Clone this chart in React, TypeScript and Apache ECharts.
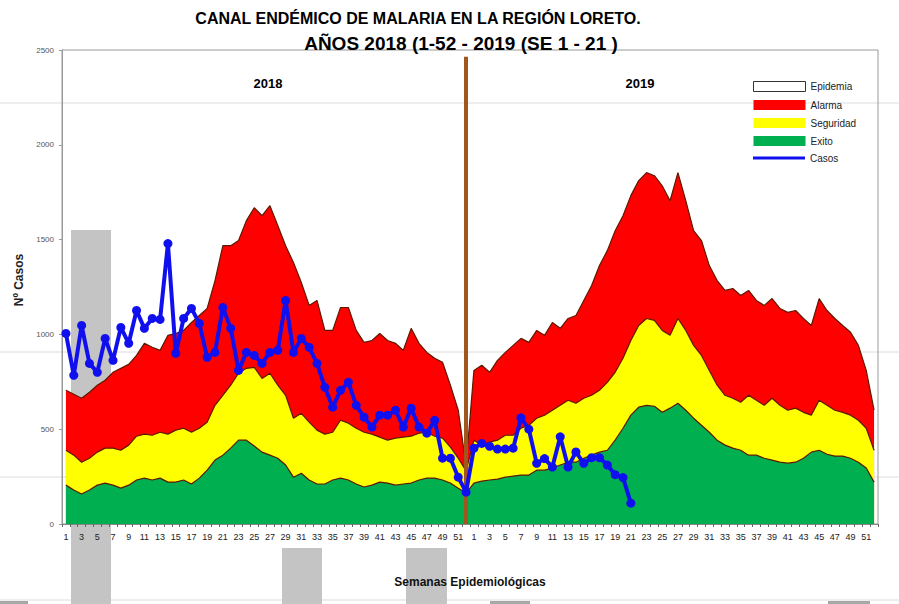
import React, { useEffect, useRef } from "react";
import * as echarts from "echarts";

const WEEKS: string[] = Array.from({ length: 52 }, (_, i) => String(i + 1));
const YEARS = ["2018", "2019"];
const CATEGORIES: string[] = [
  ...WEEKS.map((w) => YEARS[0] + "-" + w),
  ...WEEKS.map((w) => YEARS[1] + "-" + w),
];

const ALARMA_2018 = [705, 684, 663, 695, 732, 758, 800, 821, 842, 889, 953, 932, 916, 995, 1005, 1021, 1063, 1100, 1137, 1284, 1468, 1468, 1495, 1600, 1668, 1626, 1679, 1574, 1468, 1379, 1274, 1153, 1179, 1021, 1021, 1142, 1142, 1021, 958, 968, 1005, 968, 953, 916, 1032, 953, 905, 874, 853, 732, 600, 310];
const ALARMA_2019 = [810, 837, 800, 863, 905, 942, 979, 958, 1021, 995, 1063, 1032, 1084, 1100, 1179, 1258, 1363, 1442, 1547, 1626, 1732, 1811, 1853, 1837, 1784, 1705, 1853, 1705, 1547, 1495, 1363, 1284, 1232, 1242, 1205, 1232, 1179, 1153, 1189, 1137, 1116, 1126, 1084, 1047, 1189, 1126, 1084, 1047, 1011, 942, 810, 600];
const SEGURIDAD_2018 = [389, 363, 326, 347, 379, 400, 400, 389, 416, 463, 474, 468, 484, 474, 495, 505, 484, 505, 537, 626, 679, 732, 795, 821, 826, 768, 795, 732, 679, 558, 584, 537, 495, 474, 484, 547, 532, 505, 484, 474, 458, 442, 453, 458, 463, 479, 484, 463, 453, 405, 347, 280];
const SEGURIDAD_2019 = [442, 416, 432, 442, 468, 468, 505, 521, 558, 574, 600, 626, 653, 637, 663, 679, 705, 747, 800, 874, 968, 1047, 1084, 1074, 1021, 995, 1084, 1021, 942, 889, 810, 732, 679, 663, 642, 679, 653, 626, 663, 626, 600, 611, 589, 574, 653, 626, 600, 589, 574, 547, 505, 389];
const EXITO_2018 = [205, 179, 158, 179, 205, 216, 205, 189, 205, 232, 242, 232, 242, 221, 221, 232, 211, 242, 284, 337, 363, 400, 442, 442, 411, 379, 363, 347, 311, 247, 268, 232, 211, 211, 232, 242, 232, 211, 195, 205, 221, 216, 205, 211, 216, 232, 242, 242, 232, 216, 189, 163];
const EXITO_2019 = [216, 226, 232, 237, 247, 253, 258, 258, 284, 284, 295, 311, 326, 326, 347, 363, 379, 389, 442, 505, 574, 616, 626, 621, 589, 611, 637, 600, 558, 521, 484, 442, 416, 400, 389, 363, 363, 347, 337, 326, 321, 326, 347, 379, 389, 368, 358, 358, 347, 326, 295, 221];
const CASOS_2018 = [1005, 784, 1047, 847, 800, 979, 863, 1037, 953, 1126, 1032, 1084, 1079, 1479, 900, 1084, 1137, 1058, 879, 905, 1142, 1032, 810, 905, 889, 847, 905, 916, 1179, 905, 979, 932, 847, 721, 616, 705, 747, 626, 563, 511, 574, 574, 600, 511, 611, 511, 479, 547, 347, 347, 247, 168];
const CASOS_2019 = [400, 425, 410, 395, 395, 400, 560, 500, 320, 345, 300, 460, 300, 380, 320, 350, 350, 311, 260, 245, 110];

const DIVIDER_INDEX = 51;
const Y_TICKS = { min: 0, max: 2500, interval: 500 };

const FONT = "'Liberation Sans', Arial, sans-serif";
const OUTLINE = "#5e1800";

export default function App() {
  const ref = useRef<HTMLDivElement>(null);
  useEffect(() => {
    if (!ref.current) return;
    const chart = echarts.init(ref.current, undefined, { renderer: "svg" });
    const casos: (number | null)[] = [
      ...CASOS_2018,
      ...CASOS_2019,
      ...Array(104 - CASOS_2018.length - CASOS_2019.length).fill(null),
    ];
    const area = (name: string, color: string, data: number[], z: number) => ({
      name,
      type: "line",
      data,
      z,
      symbol: "none",
      itemStyle: { color },
      lineStyle: { color: OUTLINE, width: 1.2 },
      areaStyle: { color, opacity: 1 },
    });
    const grayRect = (x: number, y: number, w: number, h: number, fill = "#c4c4c4") => ({
      type: "rect",
      z: -5,
      shape: { x, y, width: w, height: h },
      style: { fill },
      silent: true,
    });
    const hline = (y: number) => ({
      type: "line",
      z: -6,
      shape: { x1: 0, y1: y, x2: 899, y2: y },
      style: { stroke: "#dcdcdc", lineWidth: 1 },
      silent: true,
    });
    chart.setOption({
      animation: false,
      textStyle: { fontFamily: FONT },
      grid: { left: 62, right: 21, top: 50, bottom: 80, show: true, borderColor: "#9a9a9a", borderWidth: 1 },
      graphic: [
        hline(103),
        hline(352),
        hline(477),
        hline(600),
        grayRect(71, 230, 40, 374),
        grayRect(282, 548, 40, 56),
        grayRect(406, 548, 41, 56),
        grayRect(0, 601, 28, 3, "#a8a8a8"),
        grayRect(490, 601, 40, 3, "#a8a8a8"),
        grayRect(828, 601, 42, 3, "#a8a8a8"),
        {
          type: "text",
          x: 418,
          y: 18,
          style: {
            text: "CANAL ENDÉMICO DE MALARIA EN LA REGIÓN LORETO.",
            font: "bold 16px " + FONT,
            fill: "#000",
            align: "center",
            verticalAlign: "middle",
          },
        },
        {
          type: "text",
          x: 461,
          y: 43,
          style: {
            text: "AÑOS 2018 (1-52 - 2019 (SE 1 - 21 )",
            font: "bold 19px " + FONT,
            fill: "#000",
            align: "center",
            verticalAlign: "middle",
          },
        },
        {
          type: "text",
          x: 268,
          y: 83,
          style: { text: YEARS[0], font: "bold 13px " + FONT, fill: "#000", align: "center", verticalAlign: "middle" },
        },
        {
          type: "text",
          x: 640,
          y: 83,
          style: { text: YEARS[1], font: "bold 13px " + FONT, fill: "#000", align: "center", verticalAlign: "middle" },
        },
      ],
      legend: [
        {
          orient: "vertical",
          left: 748,
          top: 76,
          itemWidth: 52,
          itemHeight: 10,
          itemGap: 8,
          textStyle: { fontSize: 10, color: "#222", fontFamily: FONT },
          data: [
            { name: "Epidemia", icon: "rect", itemStyle: { color: "#fff", borderColor: "#333", borderWidth: 1 } },
            { name: "Alarma", icon: "rect", itemStyle: { color: "#ff0000", borderWidth: 0 } },
            { name: "Seguridad", icon: "rect", itemStyle: { color: "#ffff00", borderWidth: 0 } },
            { name: "Exito", icon: "rect", itemStyle: { color: "#00b050", borderWidth: 0 } },
          ],
        },
        {
          orient: "vertical",
          left: 748,
          top: 148,
          itemWidth: 52,
          itemHeight: 3,
          textStyle: { fontSize: 10, color: "#222", fontFamily: FONT },
          data: [{ name: "Casos", icon: "rect", itemStyle: { color: "#1010ee", borderWidth: 0 } }],
        },
      ],
      xAxis: {
        type: "category",
        data: CATEGORIES,
        boundaryGap: true,
        name: "Semanas Epidemiológicas",
        nameLocation: "middle",
        nameGap: 52,
        nameTextStyle: { fontSize: 12, fontWeight: "bold", color: "#111", fontFamily: FONT },
        axisLine: { lineStyle: { color: "#888" } },
        axisTick: { show: true, interval: 0, length: 3, lineStyle: { color: "#666" } },
        axisLabel: {
          interval: 1,
          fontSize: 9,
          color: "#222",
          margin: 8,
          formatter: (v: string) => v.split("-")[1],
        },
        splitLine: { show: false },
      },
      yAxis: {
        type: "value",
        min: Y_TICKS.min,
        max: Y_TICKS.max,
        interval: Y_TICKS.interval,
        name: "Nº Casos",
        nameLocation: "middle",
        nameGap: 26,
        nameTextStyle: { fontSize: 12, fontWeight: "bold", color: "#222", fontFamily: FONT, padding: [0, 0, 0, 14] },
        axisLine: { show: true, lineStyle: { color: "#999" } },
        axisTick: { show: true, length: 3, lineStyle: { color: "#999" } },
        axisLabel: { fontSize: 8, color: "#555", margin: 8, formatter: (v: number) => String(v) },
        splitLine: { show: false },
      },
      series: [
        { name: "Epidemia", type: "line", data: [], itemStyle: { color: "#fff" } },
        area("Alarma", "#ff0000", [...ALARMA_2018, ...ALARMA_2019], 1),
        area("Seguridad", "#ffff00", [...SEGURIDAD_2018, ...SEGURIDAD_2019], 1),
        {
          ...area("Exito", "#00b050", [...EXITO_2018, ...EXITO_2019], 1),
          markLine: {
            z: 2,
            symbol: "none",
            silent: true,
            label: { show: false },
            lineStyle: { color: "#a0561c", width: 4, type: "solid" },
            data: [[{ xAxis: DIVIDER_INDEX, yAxis: 2465 }, { xAxis: DIVIDER_INDEX, yAxis: 0 }]],
          },
        },
        {
          name: "Casos",
          type: "line",
          z: 3,
          data: casos,
          symbol: "circle",
          symbolSize: 9,
          showSymbol: true,
          showAllSymbol: true,
          itemStyle: { color: "#1010ee" },
          lineStyle: { color: "#1010ee", width: 4 },
        },
      ],
    });
    return () => chart.dispose();
  }, []);
  return <div ref={ref} style={{ width: 899, height: 604, position: "absolute", left: 0, top: 0 }} />;
}
